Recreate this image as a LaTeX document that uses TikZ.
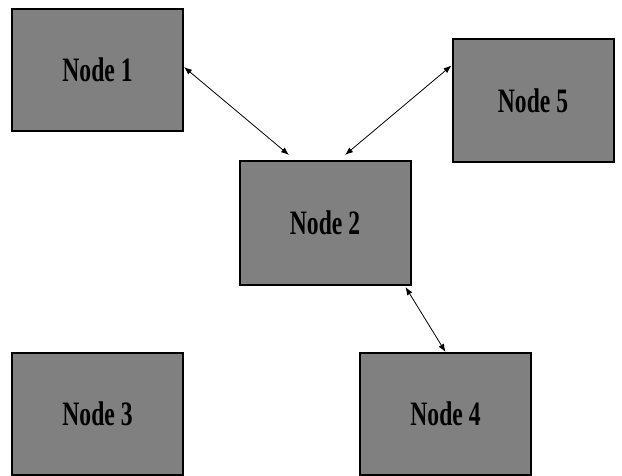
\documentclass[tikz,border=0pt]{standalone}
\usepackage{fontspec}
\setmainfont{Liberation Serif}
\usepackage{graphicx}
\usepackage{xcolor}
\usepackage{tikz}
\usetikzlibrary{arrows.meta}

\definecolor{boxgray}{RGB}{128,128,128}
\newcommand{\nodelabel}[1]{\scalebox{1}[1.45]{\bfseries #1}}

\begin{document}
\begin{tikzpicture}[x=0.5pt, y=-0.5pt, every node/.style={rectangle, draw, line width=1pt, fill=boxgray, minimum width=85.5pt, minimum height=61pt, font=\fontsize{11.8}{14}\selectfont}, link/.style={{Latex[length=4pt,width=3pt]}-{Latex[length=4pt,width=3pt]}, line width=0.4pt}]
        \useasboundingbox (0,0) rectangle (622,476);
        % Nodes
        \node (n1) at (97.5,70) {\nodelabel{Node 1}};
        \node (n5) at (533,100.5) [minimum width=80.5pt, minimum height=61.5pt] {\nodelabel{Node 5}};
        \node (n2) at (325,223) [minimum height=62pt] {\nodelabel{Node 2}};
        \node (n3) at (97.5,414) {\nodelabel{Node 3}};
        \node (n4) at (445.5,414) {\nodelabel{Node 4}};

        % Links to Node 2
        \draw[link] ([yshift=1.5pt]n1.east) -- ([xshift=-18pt,yshift=2.5pt]n2.north);
        \draw[link] ([yshift=17.5pt]n5.west) -- ([xshift=10pt,yshift=2.5pt]n2.north);
        \draw[link] ([xshift=-3pt,yshift=-0.5pt]n2.south east) -- (n4.north);
    \end{tikzpicture}
\end{document}
